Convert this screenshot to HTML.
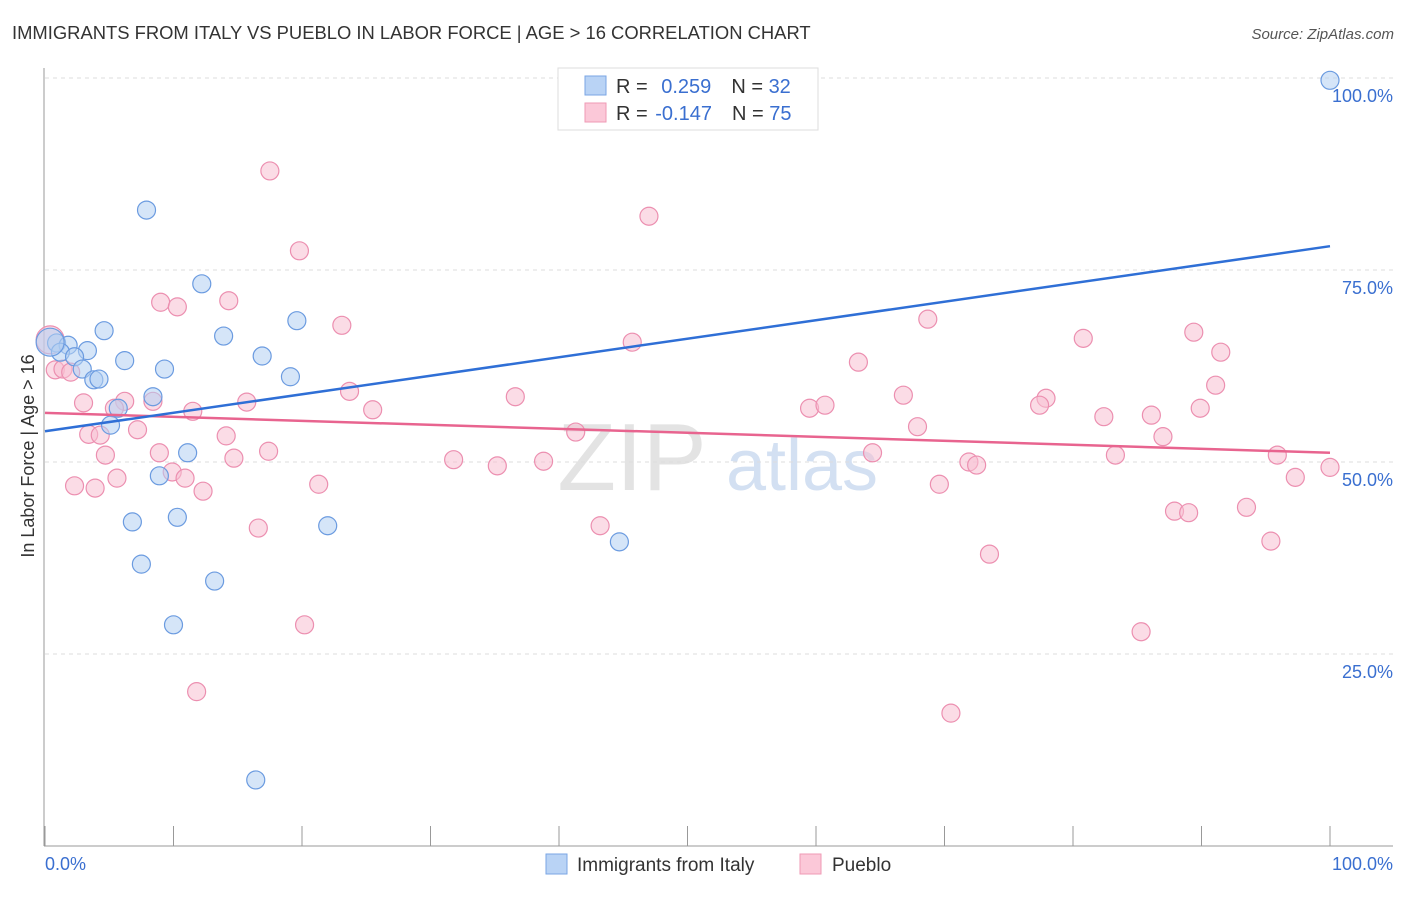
<!DOCTYPE html>
<html><head><meta charset="utf-8"><style>
body{margin:0;background:#fff;font-family:"Liberation Sans",sans-serif}
svg text{font-family:"Liberation Sans",sans-serif}
</style></head><body>
<svg id="chart" width="1406" height="892" viewBox="0 0 1406 892">
<text x="12" y="39" font-size="18.4" fill="#333">IMMIGRANTS FROM ITALY VS PUEBLO IN LABOR FORCE | AGE &gt; 16 CORRELATION CHART</text>
<text x="1394" y="39" font-size="15" fill="#555" font-style="italic" text-anchor="end">Source: ZipAtlas.com</text>
<g>
<text x="632" y="490" font-size="96" fill="#ddd" font-family="Liberation Serif,serif" text-anchor="middle" opacity="0.8">ZIP</text>
<text x="802" y="490" font-size="72" fill="#c9d9ef" text-anchor="middle" opacity="0.8">atlas</text>
</g>
<g id="grid"></g>
<g id="axes"></g>
<g id="marks"></g>
<text transform="translate(34,456) rotate(-90)" font-size="18" fill="#333" text-anchor="middle">In Labor Force | Age &gt; 16</text>
<g>
<rect x="558" y="68" width="260" height="62" fill="#fff" stroke="#ddd"/>
<rect x="585" y="76" width="21" height="19" fill="#b9d3f5" stroke="#7aa6e4"/>
<rect x="585" y="103" width="21" height="19" fill="#fbc8d8" stroke="#ef9ab5"/>
<text x="616" y="93" font-size="20" fill="#333">R = <tspan fill="#3a6fd0" dx="8">0.259</tspan><tspan fill="#333" dx="20">N = </tspan><tspan fill="#3a6fd0">32</tspan></text>
<text x="616" y="120" font-size="20" fill="#333">R = <tspan fill="#3a6fd0" dx="2">-0.147</tspan><tspan fill="#333" dx="20">N = </tspan><tspan fill="#3a6fd0">75</tspan></text>
</g>
<g>
<rect x="546" y="854" width="21" height="20" fill="#b9d3f5" stroke="#7aa6e4"/>
<text x="577" y="871" font-size="19" fill="#333">Immigrants from Italy</text>
<rect x="800" y="854" width="21" height="20" fill="#fbc8d8" stroke="#ef9ab5"/>
<text x="832" y="871" font-size="19" fill="#333">Pueblo</text>
</g>
</svg>
<script>
const yTicks=[25,50,75,100];
const yTickLabels=["25.0%","50.0%","75.0%","100.0%"];
const xTicks=[0,10,20,30,40,50,60,70,80,90,100];
const italyX=[100,7.9,12.2,19.6,13.9,4.6,16.9,0.9,1.8,3.3,1.2,2.3,6.2,9.3,2.9,19.1,3.8,4.2,8.4,5.7,5.1,11.1,8.9,6.8,10.3,22.0,44.7,7.5,13.2,10.0,16.4,0.4];
const italyY=[99.7,82.8,73.2,68.4,66.4,67.1,63.8,65.5,65.2,64.5,64.3,63.7,63.2,62.1,62.1,61.1,60.7,60.8,58.5,57.0,54.8,51.2,48.2,42.2,42.8,41.7,39.6,36.7,34.5,28.8,8.6,65.6];
const puebloX=[17.5,47.0,19.8,9.0,14.3,10.3,23.1,68.7,45.7,80.8,89.4,91.5,63.3,0.8,1.4,2.0,6.2,8.4,3.0,23.7,66.8,91.1,77.9,77.4,15.7,5.4,11.5,25.5,36.6,59.5,60.7,82.4,86.1,89.9,7.2,3.4,4.3,14.1,67.9,41.3,87.0,14.7,4.7,8.9,17.4,64.4,83.3,31.8,35.2,38.8,71.9,72.5,95.9,100,9.9,5.6,10.9,97.3,2.3,3.9,12.3,21.3,69.6,87.9,89.0,93.5,43.2,16.6,95.4,73.5,20.2,85.3,11.8,70.5,0.4];
const puebloY=[87.9,82.0,77.5,70.8,71.0,70.2,67.8,68.6,65.6,66.1,66.9,64.3,63.0,62.0,62.1,61.7,57.9,57.9,57.7,59.2,58.7,60.0,58.3,57.4,57.8,57.0,56.6,56.8,58.5,57.0,57.4,55.9,56.1,57.0,54.2,53.6,53.5,53.4,54.6,53.9,53.3,50.5,50.9,51.2,51.4,51.2,50.9,50.3,49.5,50.1,50.0,49.6,50.9,49.3,48.7,47.9,47.9,48.0,46.9,46.6,46.2,47.1,47.1,43.6,43.4,44.1,41.7,41.4,39.7,38.0,28.8,27.9,20.1,17.3,65.9];
const italyTrend=[54.0,78.1];
const puebloTrend=[56.4,51.2];
const NS="http://www.w3.org/2000/svg";
const sx=v=>45+v*12.85, sy=v=>846-v*7.68;
function mk(tag,attrs,parent){const e=document.createElementNS(NS,tag);for(const k in attrs)e.setAttribute(k,attrs[k]);parent.appendChild(e);return e;}
const grid=document.getElementById('grid'),axes=document.getElementById('axes'),marks=document.getElementById('marks');
yTicks.forEach((t,i)=>{
 const l=mk('line',{x1:45,x2:1393,y1:sy(t),y2:sy(t),stroke:'#ddd','stroke-dasharray':'4,4'},grid);
 
 
 const tx=mk('text',{x:1393,y:sy(t)+24,'font-size':18,fill:'#3a6fd0','text-anchor':'end'},axes);
 tx.textContent=yTickLabels[i];
 
 
});
const ya=mk('line',{x1:44,x2:44,y1:68,y2:846,stroke:'#999'},axes);


const xa=mk('line',{x1:44,x2:1393,y1:846,y2:846,stroke:'#999'},axes);


xTicks.forEach(t=>{
 const l=mk('line',{x1:sx(t),x2:sx(t),y1:826,y2:846,stroke:'#999'},axes);
 
 
});
const xl0=mk('text',{x:45,y:870,'font-size':18,fill:'#3a6fd0'},axes);xl0.textContent='0.0%';


const xl1=mk('text',{x:1393,y:870,'font-size':18,fill:'#3a6fd0','text-anchor':'end'},axes);xl1.textContent='100.0%';


function pts(X,Y,fill,stroke,name){
 X.forEach((x,i)=>{
  const big=(i===X.length-1);
  const c=mk('circle',{cx:sx(x),cy:sy(Y[i]),r:big?14:9,fill:fill,'fill-opacity':0.55,stroke:stroke,'stroke-width':1.2},marks);
  
  
 });
}
pts(puebloX,puebloY,'#f8bfd1','#ec8fb0','pueblo-point');
pts(italyX,italyY,'#b3cff3','#6b9be0','italy-point');
const t1=mk('line',{x1:sx(0),y1:sy(puebloTrend[0]),x2:sx(100),y2:sy(puebloTrend[1]),stroke:'#e8648f','stroke-width':2.5},marks);


const t2=mk('line',{x1:sx(0),y1:sy(italyTrend[0]),x2:sx(100),y2:sy(italyTrend[1]),stroke:'#2f6fd6','stroke-width':2.5},marks);


</script>
</body></html>
